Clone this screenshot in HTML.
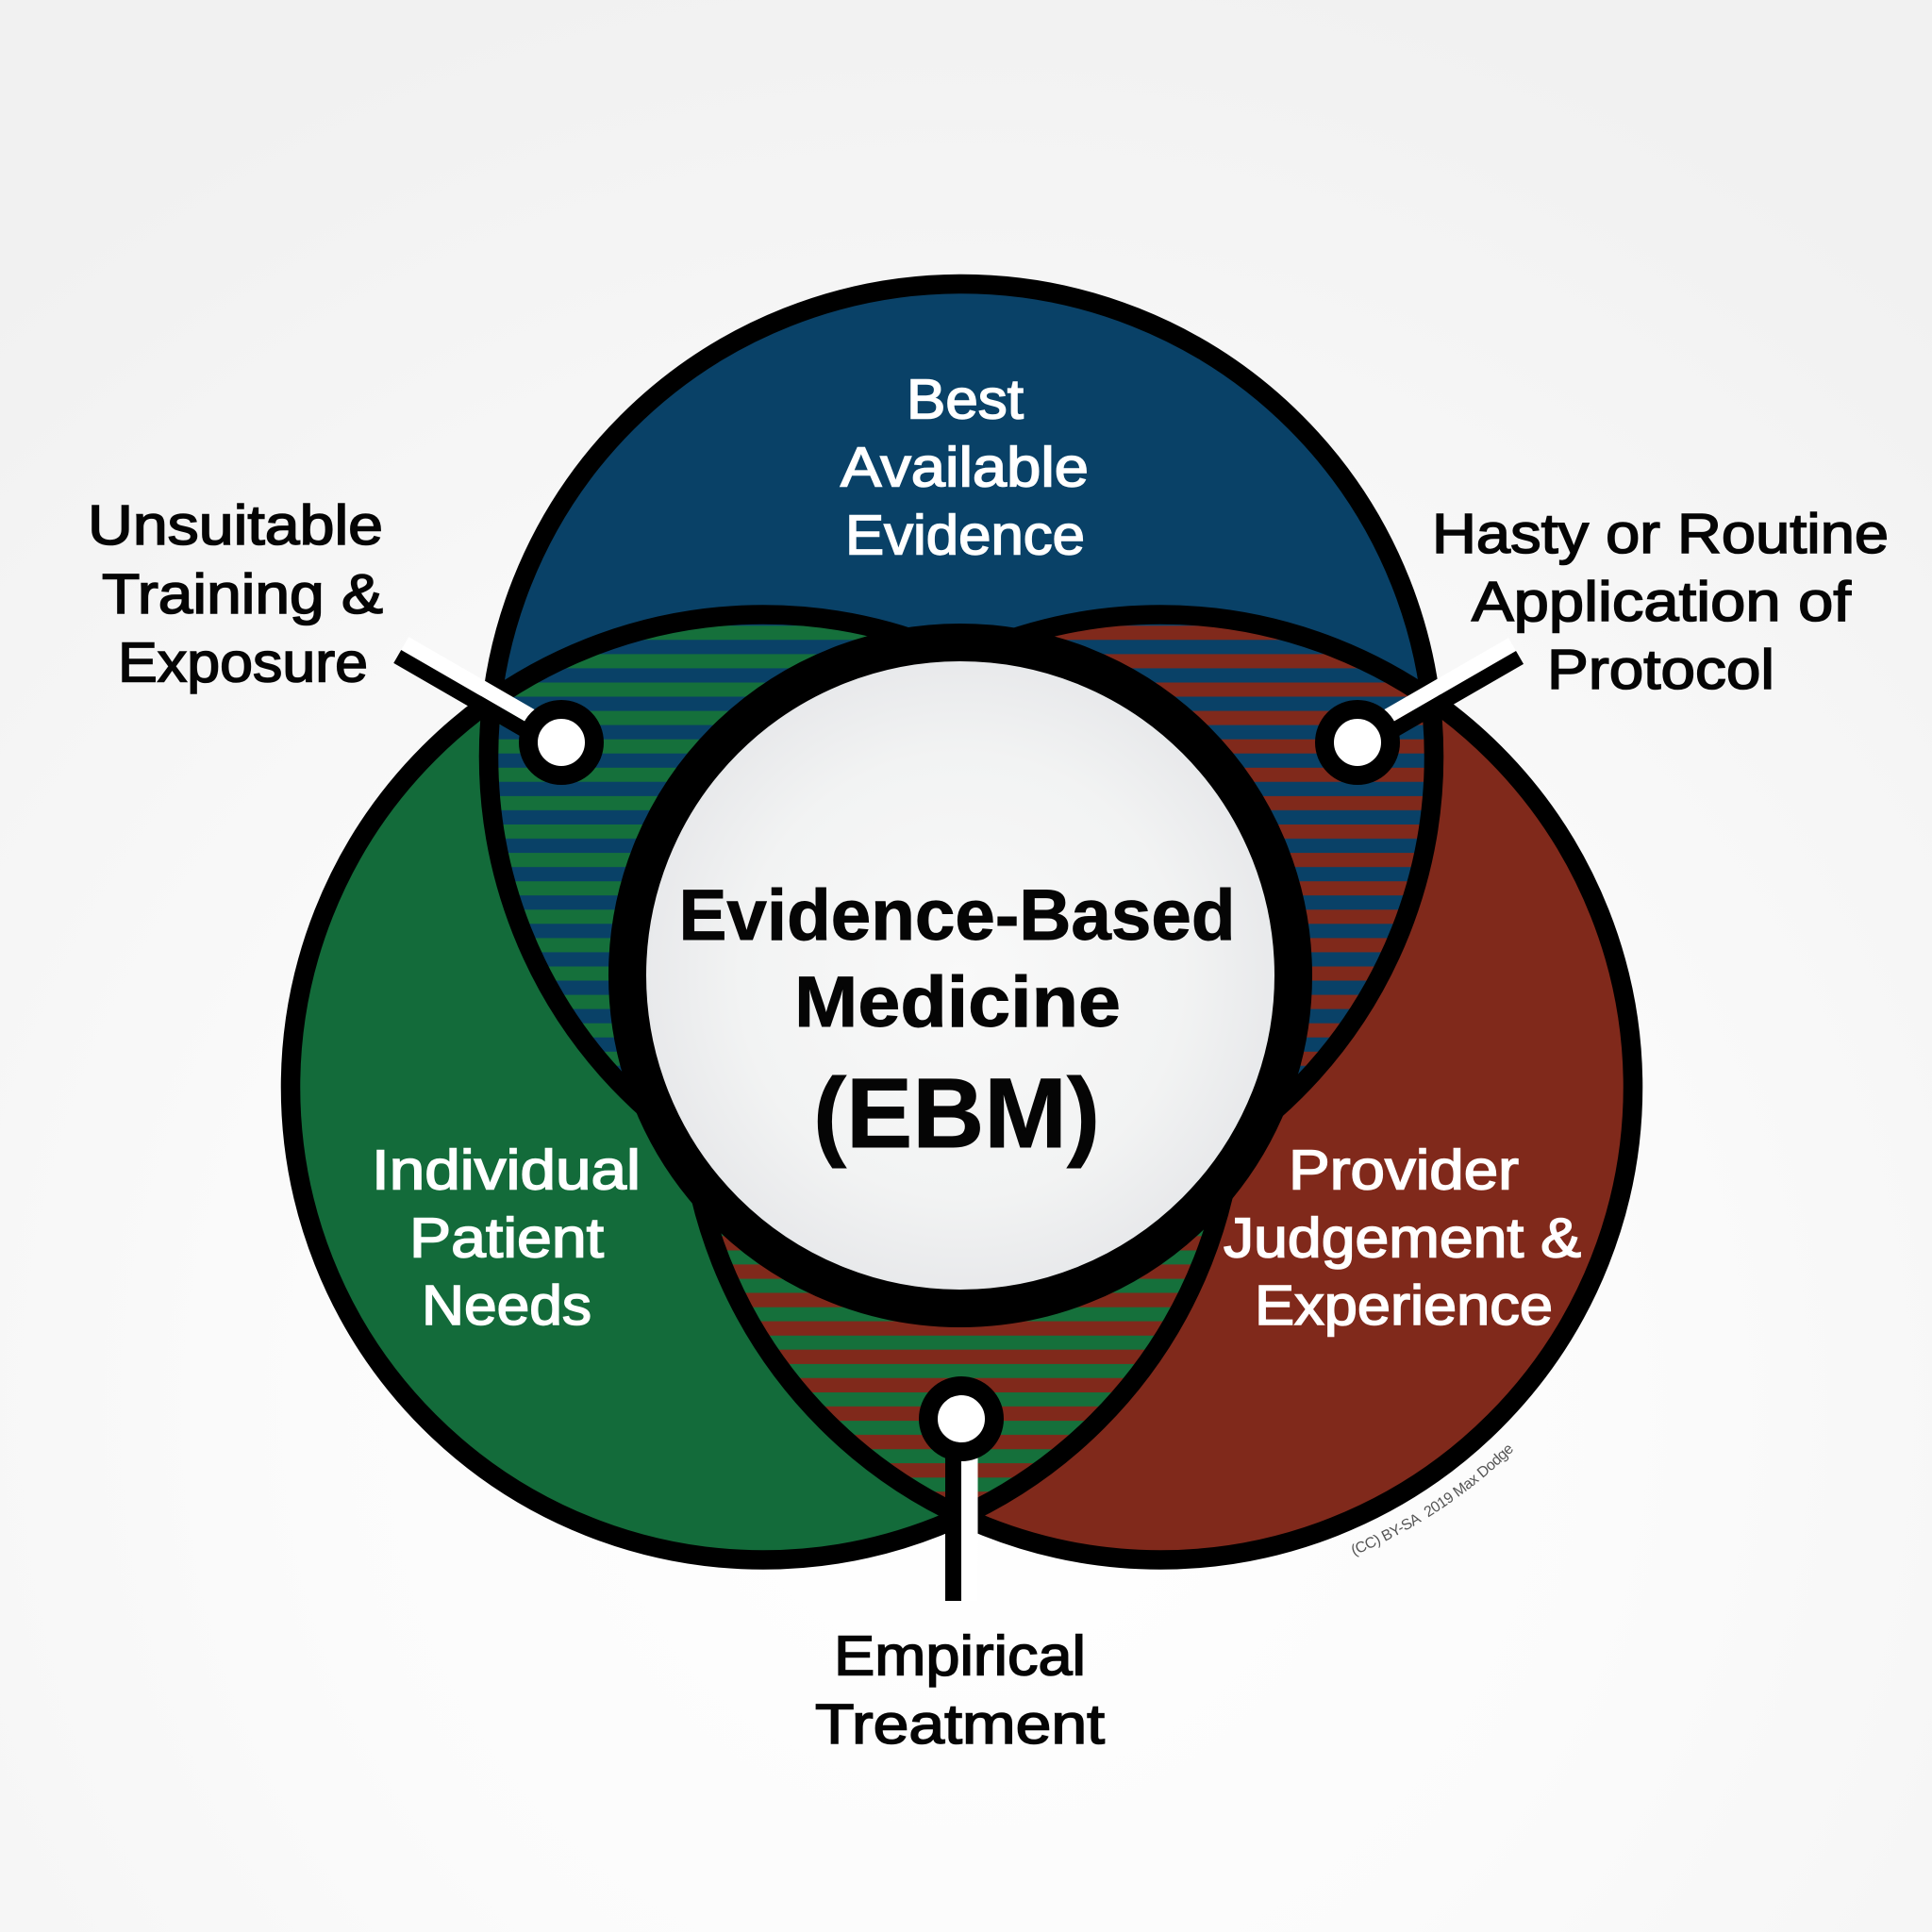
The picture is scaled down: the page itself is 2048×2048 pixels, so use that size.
<!DOCTYPE html>
<html>
<head>
<meta charset="utf-8">
<style>
html,body{margin:0;padding:0;background:#f6f6f6}
svg{display:block}
text{font-family:"Liberation Sans",sans-serif}
.l{font-size:59px;stroke-width:1.6px}
.k{fill:#050505;stroke:#050505}
.w{fill:#fff;stroke:#fff}
.b{font-weight:700;fill:#050505;stroke:#050505;stroke-width:.9px}
</style>
</head>
<body>
<svg xmlns="http://www.w3.org/2000/svg" width="2048" height="2048" viewBox="0 0 2048 2048">
<defs>
<radialGradient id="bg" gradientUnits="userSpaceOnUse" cx="1024" cy="1500" r="1560">
<stop offset="0" stop-color="#ffffff"/>
<stop offset=".45" stop-color="#fbfbfb"/>
<stop offset="1" stop-color="#f1f1f1"/>
</radialGradient>
<radialGradient id="cg" gradientUnits="userSpaceOnUse" cx="1019" cy="1034" r="335">
<stop offset="0" stop-color="#f9f9f9"/>
<stop offset=".7" stop-color="#f2f3f3"/>
<stop offset="1" stop-color="#e8e9eb"/>
</radialGradient>
<pattern id="pG" patternUnits="userSpaceOnUse" x="0" y="663.3" width="30" height="30.1">
<rect width="30" height="15" y="0" fill="#15703b"/>
<rect width="30" height="15.1" y="15" fill="#094167"/>
</pattern>
<pattern id="pR" patternUnits="userSpaceOnUse" x="0" y="663.3" width="30" height="30.1">
<rect width="30" height="15" y="0" fill="#80291b"/>
<rect width="30" height="15.1" y="15" fill="#094167"/>
</pattern>
<pattern id="pB" patternUnits="userSpaceOnUse" x="0" y="663.3" width="30" height="30.1">
<rect width="30" height="15" y="0" fill="#15703b"/>
<rect width="30" height="15.1" y="15" fill="#80291b"/>
</pattern>
<clipPath id="cB"><circle cx="1019" cy="803" r="505"/></clipPath>
<clipPath id="cGr"><circle cx="809" cy="1153" r="505"/></clipPath>
<clipPath id="cR"><circle cx="1230" cy="1153" r="505"/></clipPath>
<path id="cc" d="M1435 1649 A538 538 0 0 0 1606 1536"/>
</defs>

<rect width="2048" height="2048" fill="url(#bg)"/>

<circle cx="1019" cy="803" r="501" fill="#094167"/>
<circle cx="809" cy="1153" r="501" fill="#136b3a"/>
<circle cx="1230" cy="1153" r="501" fill="#80291b"/>

<g clip-path="url(#cB)"><g clip-path="url(#cGr)"><rect x="400" y="600" width="800" height="800" fill="url(#pG)"/></g></g>
<g clip-path="url(#cB)"><g clip-path="url(#cR)"><rect x="850" y="600" width="800" height="800" fill="url(#pR)"/></g></g>
<g clip-path="url(#cGr)"><g clip-path="url(#cR)"><rect x="650" y="1000" width="750" height="700" fill="url(#pB)"/></g></g>

<g fill="none" stroke="#000" stroke-width="20.5">
<circle cx="1019" cy="802" r="501"/>
<circle cx="809" cy="1152.5" r="501"/>
<circle cx="1230" cy="1152.5" r="501"/>
</g>

<circle cx="1018" cy="1034" r="353" fill="url(#cg)" stroke="#000" stroke-width="40"/>

<!-- pointers -->
<g transform="translate(595 787) rotate(210)">
<rect x="0" y="0" width="196" height="16" fill="#fff"/>
<rect x="0" y="-16" width="196" height="16" fill="#000"/>
</g>
<g transform="translate(1439 787) rotate(-30)">
<rect x="0" y="-16" width="194" height="16" fill="#fff"/>
<rect x="0" y="0" width="194" height="16" fill="#000"/>
</g>
<rect x="1002" y="1504" width="17" height="193" fill="#000"/>
<rect x="1019" y="1504" width="17.5" height="193" fill="#fff"/>

<g fill="#fff" stroke="#000" stroke-width="20">
<circle cx="595" cy="787" r="35"/>
<circle cx="1439" cy="787" r="35"/>
<circle cx="1019" cy="1504" r="35"/>
</g>

<!-- labels on coloured circles -->
<text class="l w" x="961" y="443.5" textLength="124" lengthAdjust="spacingAndGlyphs">Best</text>
<text class="l w" x="891" y="515.5" textLength="263" lengthAdjust="spacingAndGlyphs">Available</text>
<text class="l w" x="896" y="587.5" textLength="254" lengthAdjust="spacingAndGlyphs">Evidence</text>

<text class="l w" x="394" y="1260.5" textLength="285" lengthAdjust="spacingAndGlyphs">Individual</text>
<text class="l w" x="434" y="1332.5" textLength="206" lengthAdjust="spacingAndGlyphs">Patient</text>
<text class="l w" x="447" y="1404" textLength="180" lengthAdjust="spacingAndGlyphs">Needs</text>

<text class="l w" x="1366" y="1260.5" textLength="244" lengthAdjust="spacingAndGlyphs">Provider</text>
<text class="l w" x="1297" y="1332.5" textLength="379" lengthAdjust="spacingAndGlyphs">Judgement &amp;</text>
<text class="l w" x="1330" y="1404" textLength="316" lengthAdjust="spacingAndGlyphs">Experience</text>

<!-- outer labels -->
<text class="l k" x="93" y="577" textLength="313" lengthAdjust="spacingAndGlyphs">Unsuitable</text>
<text class="l k" x="108" y="650" textLength="298" lengthAdjust="spacingAndGlyphs">Training &amp;</text>
<text class="l k" x="125" y="722.5" textLength="265" lengthAdjust="spacingAndGlyphs">Exposure</text>

<text class="l k" x="1518" y="586" textLength="484" lengthAdjust="spacingAndGlyphs">Hasty or Routine</text>
<text class="l k" x="1560" y="658" textLength="402" lengthAdjust="spacingAndGlyphs">Application of</text>
<text class="l k" x="1640" y="730" textLength="241" lengthAdjust="spacingAndGlyphs">Protocol</text>

<text class="l k" x="884" y="1775.5" textLength="267" lengthAdjust="spacingAndGlyphs">Empirical</text>
<text class="l k" x="864" y="1848" textLength="307" lengthAdjust="spacingAndGlyphs">Treatment</text>

<!-- centre -->
<text class="b" x="719.5" y="996" font-size="76" textLength="590" lengthAdjust="spacingAndGlyphs">Evidence-Based</text>
<text class="b" x="842" y="1088" font-size="76" textLength="346" lengthAdjust="spacingAndGlyphs">Medicine</text>
<text class="b" x="862" y="1216" font-size="105" textLength="304" lengthAdjust="spacingAndGlyphs">(EBM)</text>

<text font-size="16" fill="#555"><textPath href="#cc" textLength="205" lengthAdjust="spacing">(CC) BY-SA&#160; 2019 Max Dodge</textPath></text>
</svg>
</body>
</html>
